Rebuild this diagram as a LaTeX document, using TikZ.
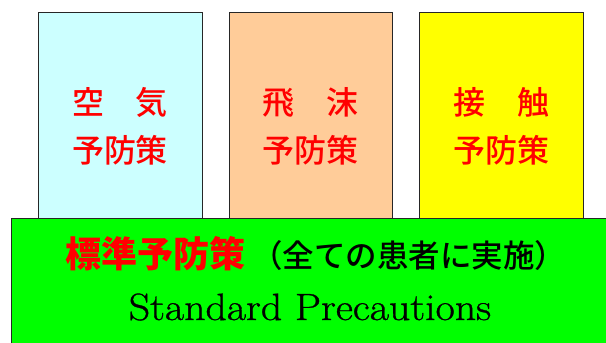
\documentclass[tikz,border=0pt]{standalone}
\usepackage{fontspec}
\newfontfamily\cjk{Noto Sans CJK JP}
\IfFontExistsTF{Noto Sans CJK JP Medium}
  {\newfontfamily\cjkmed{Noto Sans CJK JP Medium}}
  {\newfontfamily\cjkmed{Noto Sans CJK JP}[FakeBold=1.5]}
\newfontfamily\latinbold{Latin Modern Roman}[FakeBold=0.8]
\definecolor{boxcyan}{HTML}{CCFFFF}
\definecolor{boxpeach}{HTML}{FFCC99}
\definecolor{boxyellow}{HTML}{FFFF00}
\definecolor{boxgreen}{HTML}{00FF00}
\definecolor{edgegray}{HTML}{262626}
\begin{document}
\begin{tikzpicture}[x=1pt,y=-1pt,
  pbox/.style={draw=edgegray,line width=1pt},
  toptext/.style={anchor=base,inner sep=0pt,text=red,font=\cjkmed\fontsize{32}{32}\selectfont},
]
\useasboundingbox (0,0) rectangle (606,343);
\clip (0,0) rectangle (606,343);
\fill[white] (0,0) rectangle (606,343);
% top boxes
\draw[pbox,fill=boxcyan] (38,12) rectangle (202,219);
\draw[pbox,fill=boxpeach] (229,12) rectangle (392,219);
\draw[pbox,fill=boxyellow] (419,12) rectangle (583,219);
% base box
\draw[pbox,fill=boxgreen] (11,218) rectangle (640,380);
% texts
\node[toptext] (a1) at (120,114) {空　気};
\node[toptext] (a2) at (120,162) {予防策};
\node[toptext] (b1) at (310.5,114) {飛　沫};
\node[toptext] (b2) at (310.5,162) {予防策};
\node[toptext] (c1) at (501,114) {接　触};
\node[toptext] (c2) at (501,162) {予防策};
\node[anchor=base west,inner sep=0pt] (g1) at (65,267) {{\cjk\color{red}\bfseries\fontsize{36}{36}\selectfont 標準予防策}\hspace{6pt}{\cjkmed\fontsize{31.5}{31.5}\selectfont （全ての患者に実施）}};
\node[anchor=base,inner sep=0pt] (g2) at (310,320) {\scalebox{1.1}[1]{\latinbold\fontsize{38}{38}\selectfont Standard Precautions}};
\end{tikzpicture}
\end{document}
